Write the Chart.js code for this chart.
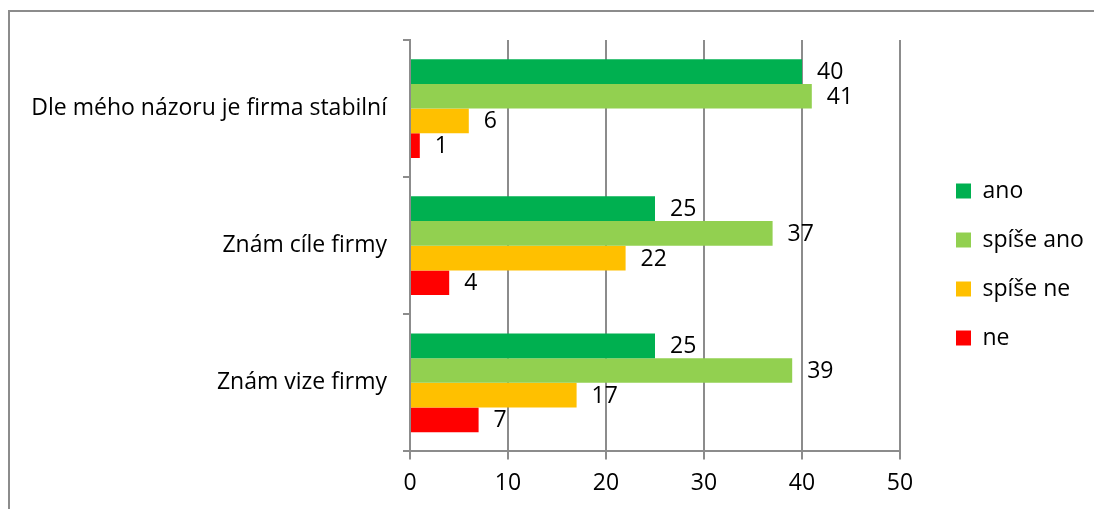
<!DOCTYPE html>
<html>
<head>
<meta charset="utf-8">
<script src="https://cdn.jsdelivr.net/npm/chart.js@4/dist/chart.umd.min.js"></script>
<style>
  body { margin: 0; background: #fff; overflow: hidden; }
  #frame {
    position: absolute; left: 8px; top: 10px;
    width: 1200px; height: 600px;
    border: 2px solid #8c8c8c;
  }
  #wrap { position: absolute; left: 0; top: 0; width: 1094px; height: 509px; }
</style>
</head>
<body>
<div id="frame"></div>
<div id="wrap"><canvas id="myChart"></canvas></div>
<script>
var categories = [
  "Dle mého názoru je firma stabilní",
  "Znám cíle firmy",
  "Znám vize firmy",
];
var seriesNames = ["ano", "spíše ano", "spíše ne", "ne"];
var ano = [40, 25, 25];
var spiseAno = [41, 37, 39];
var spiseNe = [6, 22, 17];
var ne = [1, 4, 7];
var xTicks = [0, 10, 20, 30, 40, 50];

var colors = ["#00B050", "#92D050", "#FFC000", "#FF0000"];
var gray = "#8c8c8c";
var fontFamily = "'Open Sans', Lato, sans-serif";
var fontSize = 23;

Chart.defaults.font.family = fontFamily;
Chart.defaults.color = "#000";

// draw value next to each bar end
var valueLabels = {
  id: "valueLabels",
  afterDatasetsDraw: function (chart) {
    var ctx = chart.ctx;
    ctx.save();
    ctx.font = fontSize + "px " + fontFamily;
    ctx.fillStyle = "#000";
    ctx.textAlign = "left";
    ctx.textBaseline = "middle";
    chart.data.datasets.forEach(function (ds, i) {
      chart.getDatasetMeta(i).data.forEach(function (bar, j) {
        ctx.fillText(String(ds.data[j]), bar.x + 15, bar.y + 1);
      });
    });
    ctx.restore();
  },
};

// fixed legend width so the plot ends where it should, legend nudged right
var legendWidth = {
  id: "legendWidth",
  beforeLayout: function (chart) {
    var lg = chart.legend;
    if (lg && !lg._fixed) {
      var fit = lg.fit.bind(lg);
      lg.fit = function () {
        fit();
        this.width = 194;
      };
      lg._fixed = true;
    }
  },
  afterLayout: function (chart) {
    var lg = chart.legend;
    if (lg) {
      lg.left += 30;
      lg.top -= 9;
      lg.bottom -= 9;
    }
  },
};

var canvas = document.getElementById("myChart");
canvas.width = 1094;
canvas.height = 509;
var ctx = canvas.getContext("2d");

var values = [ano, spiseAno, spiseNe, ne];

var myChart = new Chart(ctx, {
  type: "bar",
  data: {
    labels: categories,
    datasets: seriesNames.map(function (name, i) {
      return {
        label: name,
        data: values[i],
        backgroundColor: colors[i],
        borderWidth: 0,
        categoryPercentage: 0.72,
        barPercentage: 1,
      };
    }),
  },
  options: {
    indexAxis: "y",
    responsive: false,
    animation: false,
    layout: {
      padding: { left: 20, top: 40, right: 0, bottom: 2 },
    },
    scales: {
      x: {
        min: 0,
        max: 50,
        afterBuildTicks: function (scale) {
          scale.ticks = xTicks.map(function (v) { return { value: v }; });
        },
        grid: {
          color: gray,
          lineWidth: 2,
          tickLength: 8,
          drawTicks: true,
        },
        border: { color: gray, width: 2 },
        ticks: {
          font: { size: fontSize },
          color: "#000",
          padding: 10,
        },
      },
      y: {
        afterFit: function (scale) {
          scale.width = 390;
        },
        grid: {
          drawOnChartArea: false,
          drawTicks: true,
          tickLength: 7,
          color: gray,
          lineWidth: 2,
        },
        border: { color: gray, width: 2 },
        ticks: {
          font: { size: fontSize },
          color: "#000",
          padding: 16,
        },
      },
    },
    plugins: {
      legend: {
        position: "right",
        labels: {
          boxWidth: 15,
          boxHeight: 15,
          padding: 26,
          font: { size: fontSize },
          color: "#000",
        },
      },
      tooltip: { enabled: false },
    },
  },
  plugins: [valueLabels, legendWidth],
});
</script>
</body>
</html>
